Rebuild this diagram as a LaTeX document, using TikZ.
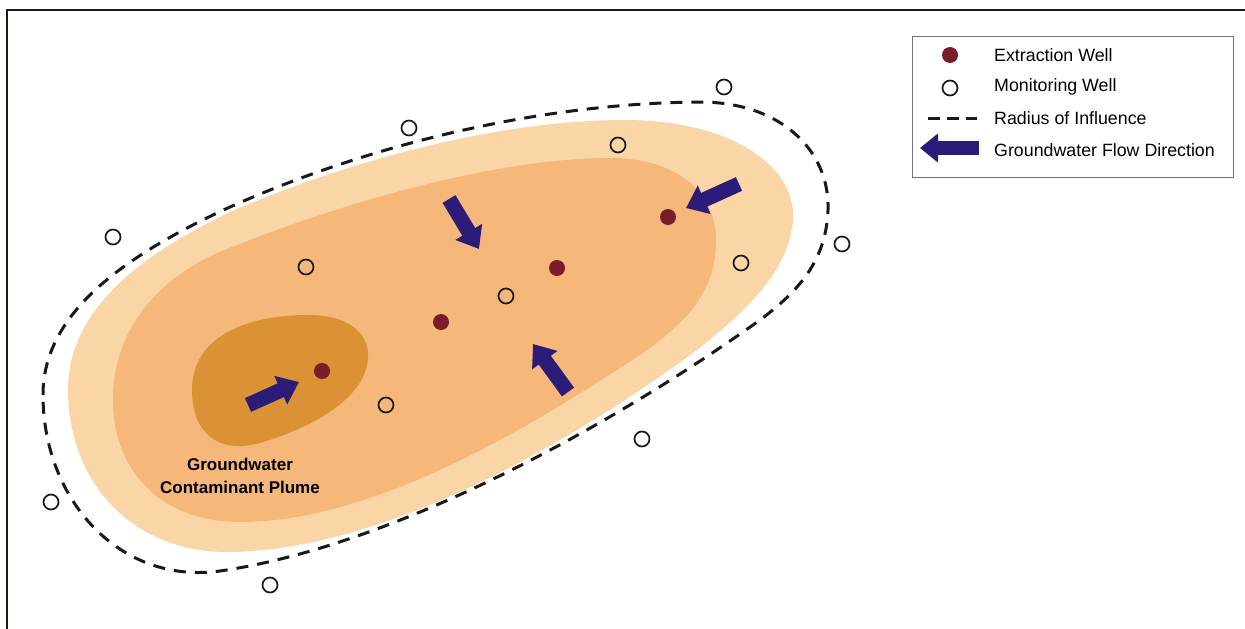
\documentclass[tikz,border=0pt]{standalone}
\usepackage{fontspec}
\setmainfont{Liberation Sans}
\usetikzlibrary{arrows.meta}
\definecolor{zonelight}{RGB}{250,214,166}
\definecolor{zonemid}{RGB}{245,184,122}
\definecolor{zoneplume}{RGB}{218,146,52}
\definecolor{wellred}{RGB}{122,28,42}
\definecolor{flowblue}{RGB}{42,28,120}
\definecolor{framecol}{RGB}{30,26,16}
\begin{document}
\begin{tikzpicture}[x=1pt,y=-1pt,
  mw/.style={circle,draw=black!90,line width=1.7pt,minimum size=15pt,inner sep=0pt},
  ew/.style={circle,fill=wellred,minimum size=16pt,inner sep=0pt},
  flow/.style={draw=flowblue,line width=15pt,-{Triangle[length=20pt,width=30pt]}},
  txt/.style={font=\fontsize{17.8}{20}\selectfont,anchor=west,inner sep=0pt}]
\useasboundingbox (0,0) rectangle (1245,629);
\fill[white] (0,0) rectangle (1245,629);
% zones
\fill[zonelight] (68,390) .. controls (68,310) and (140,255) .. (230,212)
  .. controls (350,160) and (500,120) .. (625,120)
  .. controls (730,120) and (793,165) .. (793,215)
  .. controls (793,265) and (750,310) .. (690,355)
  .. controls (560,450) and (380,550) .. (230,552)
  .. controls (130,553) and (68,480) .. (68,390) -- cycle;
\fill[zonemid] (113,400) .. controls (113,320) and (170,270) .. (232,247)
  .. controls (350,200) and (500,158) .. (610,158)
  .. controls (680,158) and (716,195) .. (716,240)
  .. controls (716,290) and (690,320) .. (640,355)
  .. controls (540,420) and (380,522) .. (240,522)
  .. controls (160,522) and (113,470) .. (113,400) -- cycle;
\fill[zoneplume] (192,390) .. controls (192,340) and (240,316) .. (305,315)
  .. controls (350,314) and (370,335) .. (368,358)
  .. controls (366,395) and (320,425) .. (260,443)
  .. controls (215,455) and (192,430) .. (192,390) -- cycle;
% radius of influence
\draw[line width=3pt,dash pattern=on 12pt off 9pt,black!90]
  (43,395) .. controls (43,320) and (110,262) .. (230,207)
  .. controls (380,140) and (550,103) .. (700,102)
  .. controls (780,102) and (830,150) .. (828,210)
  .. controls (826,260) and (800,290) .. (760,320)
  .. controls (620,420) and (400,545) .. (220,571)
  .. controls (120,585) and (43,500) .. (43,395) -- cycle;
% monitoring wells
\foreach \n/\x/\y in {m1/724/87, m2/409/128, m3/618/145, m4/113/237, m5/306/267,
  m6/842/244, m7/741/263, m8/506/296, m9/386/405, m10/642/439, m11/51/502, m12/270/585}
  \node[mw] (\n) at (\x,\y) {};
% extraction wells
\foreach \n/\x/\y in {e1/668/217, e2/557/268, e3/441/322, e4/322/371}
  \node[ew] (\n) at (\x,\y) {};
% flow arrows
\coordinate (a1s) at (248,405); \coordinate (a1e) at (299,382);
\coordinate (a2s) at (449,199); \coordinate (a2e) at (479,249);
\coordinate (a3s) at (568,392); \coordinate (a3e) at (533,344);
\coordinate (a4s) at (739,184); \coordinate (a4e) at (686,208);
\draw[flow] (a1s) -- (a1e);
\draw[flow] (a2s) -- (a2e);
\draw[flow] (a3s) -- (a3e);
\draw[flow] (a4s) -- (a4e);
% plume label
\node[font=\bfseries\fontsize{17}{23}\selectfont,align=center] (plume) at (240,476)
  {Groundwater\\Contaminant Plume};
% legend
\node[draw=black!55,line width=1pt,minimum width=321pt,minimum height=141pt,
  anchor=north west,inner sep=0pt] (legend) at (912,36) {};
\node[ew] (le) at (950,55) {};
\node[mw] (lm) at (950,88) {};
\coordinate (ld1) at (928,118); \coordinate (ld2) at (977,118);
\draw[line width=3pt,dash pattern=on 12pt off 7pt,black!90] (ld1) -- (ld2);
\coordinate (la1) at (979,148); \coordinate (la2) at (920,148);
\draw[draw=flowblue,line width=14pt,-{Triangle[length=18pt,width=28pt]}] (la1) -- (la2);
\node[txt] (t1) at (994,55) {Extraction Well};
\node[txt] (t2) at (994,87) {Monitoring Well};
\node[txt] (t3) at (994,118) {Radius of Influence};
\node[txt] (t4) at (994,150) {Groundwater Flow Direction};
% frame
\draw[framecol,line width=2.4pt] (7,629) -- (7,10) -- (1245,10);
\end{tikzpicture}
\end{document}
